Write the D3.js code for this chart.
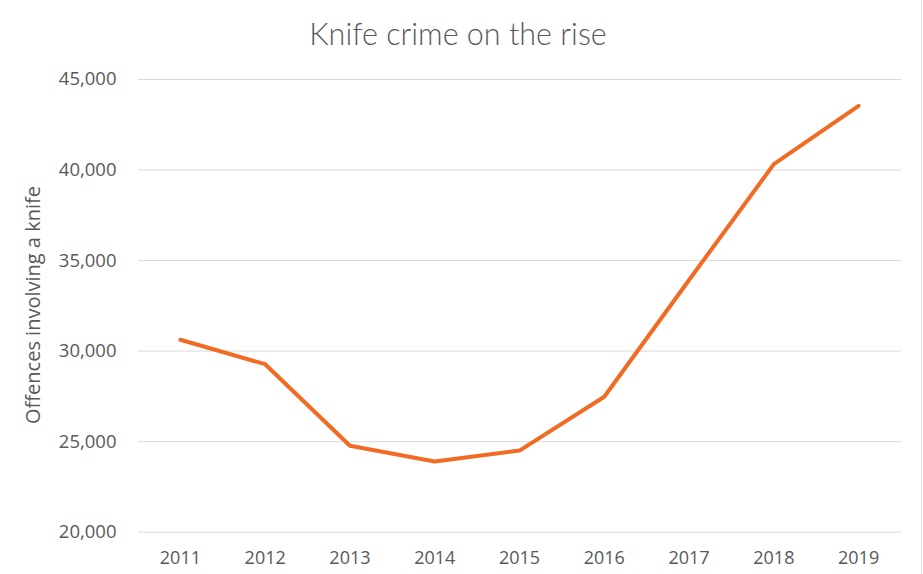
<!DOCTYPE html>
<html>
<head>
<meta charset="utf-8">
<script src="https://cdn.jsdelivr.net/npm/d3@7"></script>
<style>
  html, body { margin: 0; padding: 0; background: #fff; }
  svg { display: block; }
</style>
</head>
<body>
<svg id="chart" width="923" height="574"></svg>
<script>
// Offences involving a knife, by year
const years = ["2011", "2012", "2013", "2014", "2015", "2016", "2017", "2018", "2019"];
const offences = [30600, 29250, 24750, 23880, 24480, 27450, 33900, 40300, 43520];
const yTicks = [20000, 25000, 30000, 35000, 40000, 45000];

const chartTitle = "Knife crime on the rise";
const yTitle = "Offences involving a knife";

const W = 923, H = 574;
const margin = { left: 138, right: 22, top: 79, bottom: 42 };
const svg = d3.select("#chart");
const titleFont = "Lato, 'Open Sans', sans-serif";
const font = "'Open Sans', 'Noto Sans', sans-serif";
const textColor = "#595959";

const x = d3.scaleBand().domain(years).range([margin.left, W - margin.right]);
const y = d3.scaleLinear().domain([20000, 45000]).range([H - margin.bottom - 0.3, margin.top]);

// chart frame edge on the right
svg.append("line")
  .attr("x1", 921.5).attr("x2", 921.5).attr("y1", 0).attr("y2", H)
  .attr("stroke", "#e6e6e6").attr("stroke-width", 1);

// gridlines and value labels
const yAxis = d3.axisLeft(y).tickValues(yTicks)
  .tickSize(-(W - margin.left - margin.right))
  .tickPadding(21.5)
  .tickFormat(d3.format(","));
const gy = svg.append("g").attr("transform", `translate(${margin.left},0)`).call(yAxis);
gy.select(".domain").remove();
gy.selectAll(".tick line").attr("stroke", "#d9d9d9").attr("stroke-width", 1);
gy.selectAll(".tick text")
  .attr("fill", textColor).attr("font-family", font).attr("font-size", 18.5);

// year labels
const xAxis = d3.axisBottom(x).tickSize(0).tickPadding(20);
const gx = svg.append("g").attr("transform", `translate(0,${y(20000)})`).call(xAxis);
gx.select(".domain").remove();
gx.selectAll(".tick text")
  .attr("fill", textColor).attr("font-family", font).attr("font-size", 18);

// the series line
const line = d3.line()
  .x((d, i) => x(years[i]) + x.bandwidth() / 2)
  .y(d => y(d));
svg.append("path")
  .datum(offences)
  .attr("d", line)
  .attr("fill", "none")
  .attr("stroke", "#F26B23")
  .attr("stroke-width", 4)
  .attr("stroke-linejoin", "round")
  .attr("stroke-linecap", "round");

// titles
svg.append("text")
  .attr("x", 458).attr("y", 45)
  .attr("text-anchor", "middle")
  .attr("font-family", titleFont).attr("font-weight", 300).attr("font-size", 30.5)
  .attr("fill", textColor)
  .text(chartTitle);

svg.append("text")
  .attr("transform", `translate(40,305) rotate(-90)`)
  .attr("text-anchor", "middle")
  .attr("font-family", font).attr("font-size", 20)
  .attr("fill", textColor)
  .text(yTitle);
</script>
</body>
</html>
